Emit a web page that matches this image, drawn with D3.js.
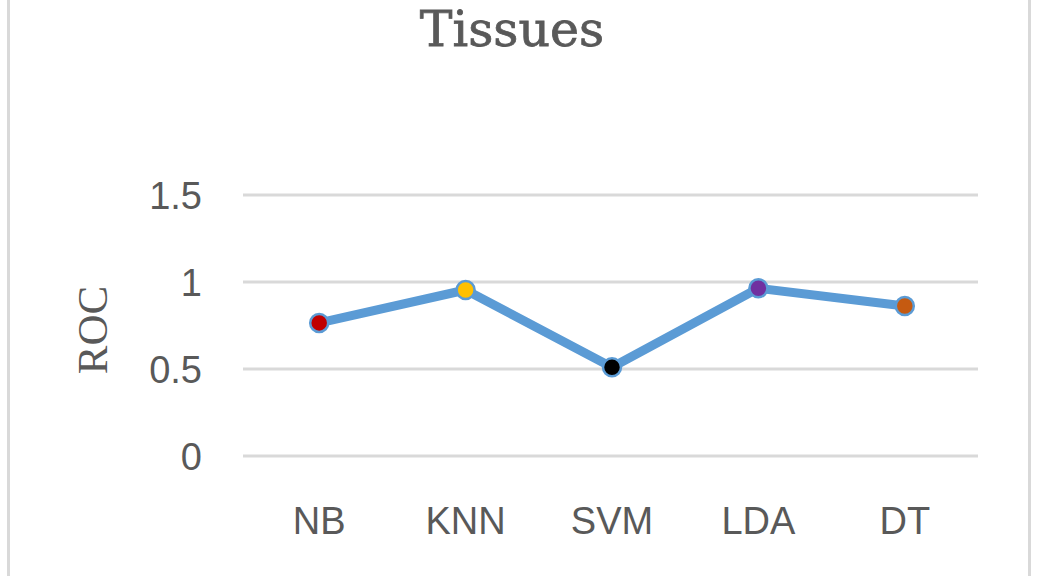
<!DOCTYPE html>
<html>
<head>
<meta charset="utf-8">
<script src="https://cdn.jsdelivr.net/npm/d3@7"></script>
<style>
  html, body { margin: 0; padding: 0; background: #fff; }
  svg { display: block; }
</style>
</head>
<body>
<svg id="chart" width="1038" height="576"></svg>
<script>
const categories = ["NB", "KNN", "SVM", "LDA", "DT"];
const rocValues = [0.765, 0.954, 0.51, 0.964, 0.862];
const pointColors = ["#c00000", "#ffc000", "#000000", "#7030a0", "#c55a11"];
const yTicks = [0, 0.5, 1, 1.5];
const yTickLabels = ["0", "0.5", "1", "1.5"];
const title = "Tissues";
const yTitle = "ROC";

const svg = d3.select("#chart");
const W = 1038, H = 576;

// outer frame
svg.append("rect")
  .attr("x", 8.5).attr("y", -10)
  .attr("width", 1021).attr("height", H + 20)
  .attr("fill", "none").attr("stroke", "#d9d9d9").attr("stroke-width", 3);

const x = d3.scaleBand().domain(categories).range([246, 978]);
const y = d3.scaleLinear().domain([0, 1.5]).range([456, 195]);

// gridlines
svg.append("g").selectAll("line").data(yTicks).join("line")
  .attr("x1", 243).attr("x2", x.range()[1])
  .attr("y1", d => y(d)).attr("y2", d => y(d))
  .attr("stroke", "#d9d9d9").attr("stroke-width", 3);

// y axis labels
const yAxis = d3.axisLeft(y).tickValues(yTicks)
  .tickFormat((d, i) => yTickLabels[i]).tickSize(0).tickPadding(0);
const gy = svg.append("g").attr("transform", "translate(202,0)").call(yAxis);
gy.select(".domain").remove();
gy.selectAll("text")
  .attr("font-family", "'Liberation Sans', sans-serif")
  .attr("font-size", 38).attr("fill", "#595959").attr("dy", "0.36em");

// x axis labels
const xAxis = d3.axisBottom(x).tickSize(0).tickPadding(0);
const gx = svg.append("g").attr("transform", "translate(0,534)").call(xAxis);
gx.select(".domain").remove();
gx.selectAll("text")
  .attr("font-family", "'Liberation Sans', sans-serif")
  .attr("font-size", 38).attr("fill", "#595959").attr("dy", 0)
  .attr("y", 0);

const data = categories.map((c, i) => ({ c, v: rocValues[i], col: pointColors[i] }));
const cx = d => x(d.c) + x.bandwidth() / 2;

// line
svg.append("path").datum(data)
  .attr("fill", "none").attr("stroke", "#5b9bd5").attr("stroke-width", 9)
  .attr("stroke-linejoin", "round")
  .attr("d", d3.line().x(cx).y(d => y(d.v)));

// markers
svg.append("g").selectAll("circle").data(data).join("circle")
  .attr("cx", cx).attr("cy", d => y(d.v)).attr("r", 9)
  .attr("fill", d => d.col).attr("stroke", "#5b9bd5").attr("stroke-width", 2.5);

// title
svg.append("text")
  .attr("x", 512).attr("y", 46).attr("text-anchor", "middle")
  .attr("font-family", "'DejaVu Serif', serif").attr("font-size", 49)
  .attr("fill", "#595959").attr("stroke", "#595959").attr("stroke-width", 0.8)
  .text(title);

// y title
svg.append("text")
  .attr("transform", "translate(107,330) rotate(-90)")
  .attr("text-anchor", "middle")
  .attr("font-family", "'Liberation Serif', serif").attr("font-size", 43)
  .attr("fill", "#595959").text(yTitle);
</script>
</body>
</html>
